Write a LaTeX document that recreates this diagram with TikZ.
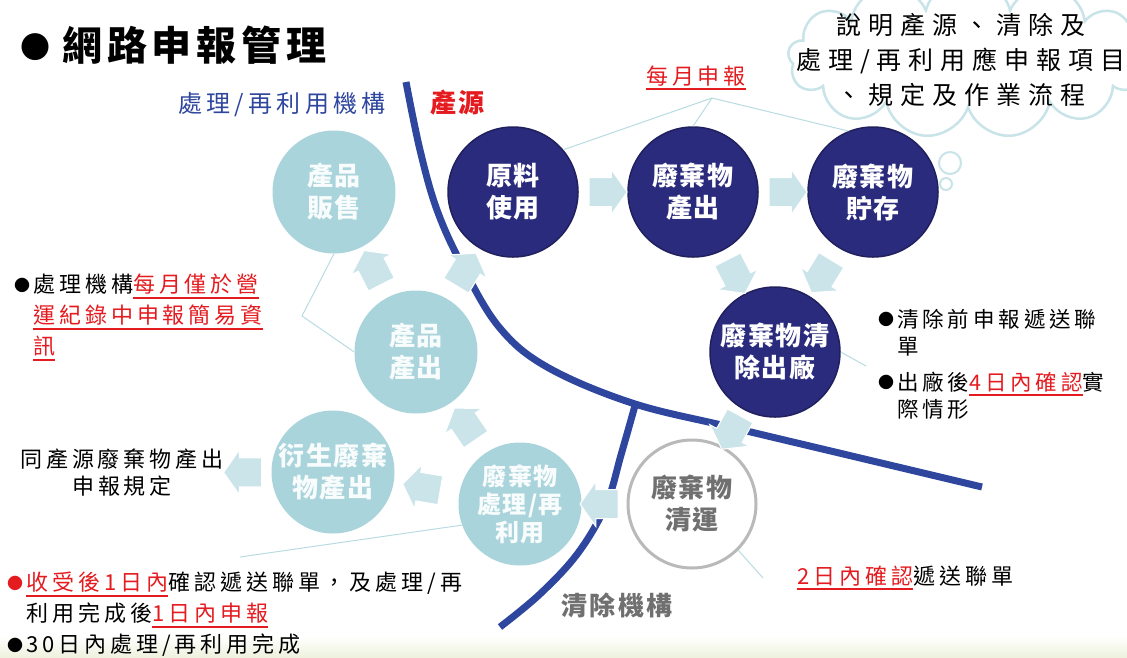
\documentclass[tikz,border=0pt]{standalone}
\usepackage{fontspec}
\usetikzlibrary{arrows,shapes.arrows,shapes.symbols}
\newfontfamily\bodyff{Noto Sans CJK TC}[LetterSpace=18]
\newfontfamily\circff{Noto Sans CJK TC}[LetterSpace=6]
\newfontfamily\cloudff{Noto Sans CJK TC}[LetterSpace=28]
\newfontfamily\titleff{Noto Sans CJK TC}[LetterSpace=12]
\newfontfamily\labff{Noto Sans CJK TC}[LetterSpace=10]
\definecolor{navy}{RGB}{42,43,125}
\definecolor{lteal}{RGB}{170,212,219}
\definecolor{arw}{RGB}{202,228,234}
\definecolor{bline}{RGB}{46,70,158}
\definecolor{ulred}{RGB}{228,28,32}
\definecolor{callc}{RGB}{185,220,226}
\definecolor{cloudc}{RGB}{200,228,232}
\definecolor{gtxt}{RGB}{112,112,112}
\definecolor{bandc}{RGB}{238,242,222}
\newcommand\redul[1]{\setbox0\hbox{{\color{ulred}#1}}\rlap{{\color{ulred}\rule[-6pt]{\wd0}{2pt}}}\box0}
\newcommand\bul{\raisebox{1.5pt}{\fontsize{16}{16}\selectfont●}\hspace{3pt}}
\newcommand\nobul{\phantom{\bul}}
\newcommand\bodyf{\bodyff\fontsize{22}{31}\selectfont}
\newcommand\rightf{\bodyff\fontsize{21.5}{27}\selectfont}
\newcommand\rulef{\bodyff\fontsize{22}{27}\selectfont}
\newcommand\circf{\circff\fontsize{26}{32}\selectfont\bfseries}
\newcommand\procf{\circff\fontsize{24}{28}\selectfont\bfseries}
\newcommand\cloudf{\cloudff\fontsize{25}{35}\selectfont}
\newcommand\titlef{\titleff\fontsize{40}{44}\selectfont\bfseries}
\newcommand\orgf{\bodyff\fontsize{24}{28}\selectfont}
\newcommand\srcf{\labff\fontsize{26}{30}\selectfont\bfseries}

\begin{document}
\begin{tikzpicture}[x=1pt,y=-1pt,node distance=180pt,
    dk/.style={circle,fill=navy,draw=navy!75!black,line width=1.5pt,minimum size=130pt,inner sep=0pt,align=center,text=white,font=\circf},
    lt/.style={circle,fill=lteal,minimum size=123pt,inner sep=0pt,align=center,text=white!92!lteal,font=\circf},
    blk/.style={single arrow,fill=arw,draw=white,line width=1pt,minimum height=38pt,inner xsep=0pt,inner ysep=14pt,single arrow head extend=8pt,single arrow tip angle=110,sloped,allow upside down},
    bnd/.style={bline,line width=7pt},
    call/.style={callc,line width=1pt},
    txt/.style={inner sep=0pt,align=left,font=\bodyf}]

    \useasboundingbox (0,0) rectangle (1127,657);
    \clip (0,0) rectangle (1127,657);
    \fill[white] (0,0) rectangle (1127,657);
    \fill[top color=white,bottom color=bandc] (0,636) rectangle (1127,657);

    \node[cloud,cloud puffs=13,cloud ignores aspect,minimum width=360pt,minimum height=160pt,draw=cloudc,fill=white,line width=2.5pt] (bubble) at (968,58) {};
    \node[circle,draw=cloudc,line width=2pt,minimum size=22pt] (b1) at (950,163) {};
    \node[circle,draw=cloudc,line width=2pt,minimum size=12pt] (b2) at (946,184) {};
    \node[inner sep=0pt,align=center,font=\cloudf,anchor=north] (note) at (961,13) {說明產源、清除及\\處理/再利用應申報項目\\、規定及作業流程};

    \node[txt,anchor=west,font=\titlef] (title) at (20,45) {\raisebox{2pt}{\fontsize{30}{30}\selectfont●}\hspace{12pt}網路申報管理};
    \node[txt,anchor=west,text=bline,font=\orgf] (treat) at (178,105) {處理/再利用機構};
    \node[txt,anchor=west,text=ulred,font=\srcf] (src) at (430,103) {產源};
    \node[txt] (monthly) at (696,78) {\redul{每月申報}};

    \node[dk] (raw) at (513,192) {原料\\使用};
    \node[dk] (waste) [right of=raw] {廢棄物\\產出};
    \node[dk] (store) [right of=waste] {廢棄物\\貯存};
    \node[dk] (clr) at (775,352) {廢棄物清\\除出廠};
    \node[circle,draw=gray!55,line width=3pt,fill=white,minimum size=128pt,inner sep=0pt,align=center,text=gtxt,font=\circf] (clean) at (692,504) {廢棄物\\清運};
    \node[lt,font=\procf] (proc) at (520,504) {廢棄物\\處理/再\\利用};
    \node[lt] (deriv) at (333,472) {衍生廢棄\\物產出};
    \node[lt] (prodout) at (416,352) {產品\\產出};
    \node[lt] (sale) at (334,192) {產品\\販售};

    \node[txt,anchor=north west] (ops) at (14,274) {\bul 處理機構\redul{每月僅於營}\\\nobul\redul{運紀錄中申報簡易資}\\\nobul\redul{訊}};
    \node[txt,align=center,anchor=north,font=\rulef] (rule) at (122,449) {同產源廢棄物產出\\申報規定};
    \node[txt,anchor=north west] (accept) at (7,572) {{\color{ulred}\bul}\redul{收受後1日內}確認遞送聯單，及處理/再\\\nobul 利用完成後\redul{1日內申報}\\\bul 30日內處理/再利用完成};
    \node[txt,anchor=north west,font=\rightf] (ship) at (878,309) {\bul 清除前申報遞送聯\\\nobul 單\\[9pt]\bul 出廠後\redul{4日內確認}實\\\nobul 際情形};
    \node[txt,anchor=west] (confirm) at (797,578) {\redul{2日內確認}遞送聯單};
    \node[txt,text=gtxt,font=\srcf] (carrier) at (617,605) {清除機構};

    \draw[bnd] plot[smooth,tension=0.6] coordinates {(406,82) (420,150) (437,210) (462,265) (499,327) (547,367) (632,403) (730,427) (856,457) (982,487)};
    \draw[bnd] plot[smooth,tension=0.6] coordinates {(636,402) (621,455) (606,505) (578,553) (540,594) (500,627)};

    \coordinate (mp) at (712,98);
    \coordinate (kink) at (302,316);
    \coordinate (cx1) at (866,366);
    \coordinate (cx2) at (240,557);
    \coordinate (cx3) at (763,578);
    \draw[call] (raw.40) -- (mp) -- (store.112);
    \draw[call] (mp) -- (waste.north);
    \draw[call] (sale.south) -- (kink) -- (prodout.west);
    \draw[call] (clr.east) -- (cx1);
    \draw[call] (proc.200) -- (cx2);
    \draw[call] (clean.-45) -- (cx3);

    \path (raw) -- node[blk] (a1) {} (waste);
    \path (waste) -- node[blk] (a2) {} (store);
    \path (waste) -- node[blk] (a3) {} (clr);
    \path (store) -- node[blk] (a4) {} (clr);
    \path (clr) -- node[blk] (a5) {} (clean);
    \path (clean) -- node[blk] (a6) {} (proc);
    \path (proc) -- node[blk] (a7) {} (prodout);
    \path (proc) -- node[blk] (a8) {} (deriv);
    \path (prodout) -- node[blk] (a9) {} (sale);
    \path (prodout) -- node[blk] (a10) {} (raw);
    \path (deriv) -- node[blk] (a11) {} (rule);
\end{tikzpicture}
\end{document}
